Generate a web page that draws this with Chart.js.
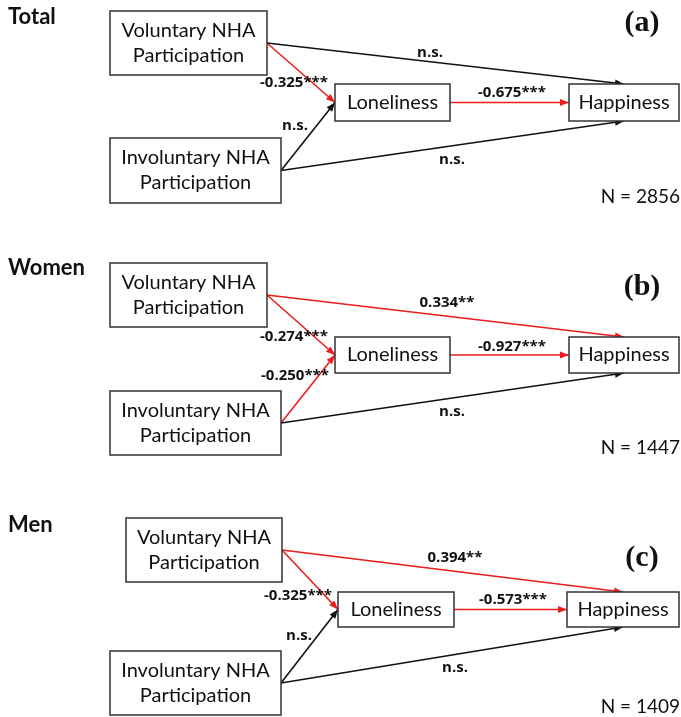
<!DOCTYPE html>
<html>
<head>
<meta charset="utf-8">
<script src="https://cdn.jsdelivr.net/npm/chart.js@4.4.1/dist/chart.umd.min.js"></script>
<style>
  body { margin: 0; background: #fff; }
  #wrap { width: 681px; height: 717px; }
</style>
</head>
<body>
<div id="wrap"><canvas id="pathChart" width="681" height="717"></canvas></div>
<script>
// Dados do diagrama
const panelTitles = ['Total', 'Women', 'Men'];
const panelLetters = ['(a)', '(b)', '(c)'];
const sampleSizes = [2856, 1447, 1409];
const nodeLabels = {
    vol: ['Voluntary NHA', 'Participation'],
    inv: ['Involuntary NHA', 'Participation'],
    lon: ['Loneliness'],
    hap: ['Happiness']
};
// coeficientes por caminho (a, b, c)
const volToLon = ['-0.325***', '-0.274***', '-0.325***'];
const invToLon = ['n.s.', '-0.250***', 'n.s.'];
const lonToHap = ['-0.675***', '-0.927***', '-0.573***'];
const volToHap = ['n.s.', '0.334**', '0.394**'];
const invToHap = ['n.s.', 'n.s.', 'n.s.'];

// Layout (unidades do eixo = pixels da figura)
const boxes = [
    { vol: [110, 11, 267, 75], inv: [110, 138, 281, 203], lon: [335, 84, 450, 121], hap: [569, 84, 679, 121] },
    { vol: [110, 263, 267, 327], inv: [110, 391, 281, 455], lon: [335, 337, 450, 373], hap: [569, 337, 679, 373] },
    { vol: [126, 518, 282, 582], inv: [110, 651, 281, 715], lon: [338, 592, 454, 627], hap: [567, 592, 679, 627] }
];
const labelPos = [
    { volLon: [294, 83], invLon: [295, 126], lonHap: [512, 93], volHap: [430, 53], invHap: [452, 160] },
    { volLon: [294, 337], invLon: [295, 376], lonHap: [512, 347], volHap: [447, 303], invHap: [452, 412] },
    { volLon: [298, 596], invLon: [299, 636], lonHap: [513, 600], volHap: [455, 558], invHap: [455, 668] }
];
const titlePos = [[8, 17], [8, 268], [8, 525]];
const letterPos = [[642, 23], [642, 287], [642, 558]];
const nPos = [[680, 197], [680, 448], [680, 707]];

const RED = '#ee1c1c';
const BLACK = '#111111';

function colorFor(label) {
    return label === 'n.s.' ? BLACK : RED;
}

function rightMid(b) { return { x: b[2], y: (b[1] + b[3]) / 2 }; }
function leftMid(b) { return { x: b[0], y: (b[1] + b[3]) / 2 }; }
function topMid(b) { return { x: (b[0] + b[2]) / 2, y: b[1] }; }
function bottomMid(b) { return { x: (b[0] + b[2]) / 2, y: b[3] }; }

// Montar os caminhos (setas)
const arrows = [];
boxes.forEach((bx, i) => {
    arrows.push({ from: rightMid(bx.vol), to: topMid(bx.hap), label: volToHap[i], at: labelPos[i].volHap });
    arrows.push({ from: rightMid(bx.inv), to: bottomMid(bx.hap), label: invToHap[i], at: labelPos[i].invHap });
    arrows.push({ from: rightMid(bx.vol), to: leftMid(bx.lon), label: volToLon[i], at: labelPos[i].volLon });
    arrows.push({ from: rightMid(bx.inv), to: leftMid(bx.lon), label: invToLon[i], at: labelPos[i].invLon });
    arrows.push({ from: rightMid(bx.lon), to: leftMid(bx.hap), label: lonToHap[i], at: labelPos[i].lonHap });
});

const datasets = arrows.map(a => ({
    data: [a.from, a.to],
    borderColor: colorFor(a.label),
    borderWidth: 1.6,
    pointRadius: 0,
    showLine: true,
    fill: false
}));

const diagramPlugin = {
    id: 'diagram',
    afterDatasetsDraw(chart) {
        const ctx = chart.ctx;
        const xs = chart.scales.x, ys = chart.scales.y;
        const px = v => xs.getPixelForValue(v);
        const py = v => ys.getPixelForValue(v);

        ctx.save();
        // pontas das setas
        arrows.forEach(a => {
            const x1 = px(a.from.x), y1 = py(a.from.y);
            const x2 = px(a.to.x), y2 = py(a.to.y);
            const ang = Math.atan2(y2 - y1, x2 - x1);
            const len = 9, half = 3.5;
            ctx.fillStyle = colorFor(a.label);
            ctx.beginPath();
            ctx.moveTo(x2, y2);
            ctx.lineTo(x2 - len * Math.cos(ang) + half * Math.sin(ang), y2 - len * Math.sin(ang) - half * Math.cos(ang));
            ctx.lineTo(x2 - len * Math.cos(ang) - half * Math.sin(ang), y2 - len * Math.sin(ang) + half * Math.cos(ang));
            ctx.closePath();
            ctx.fill();
        });

        // caixas
        boxes.forEach(bx => {
            Object.keys(bx).forEach(k => {
                const b = bx[k];
                const x0 = px(b[0]), y0 = py(b[1]), x1 = px(b[2]), y1 = py(b[3]);
                ctx.fillStyle = '#fff';
                ctx.fillRect(x0, y0, x1 - x0, y1 - y0);
                ctx.strokeStyle = '#333';
                ctx.lineWidth = 1.5;
                ctx.strokeRect(x0, y0, x1 - x0, y1 - y0);
                const lines = nodeLabels[k];
                ctx.fillStyle = '#111';
                ctx.font = '20px Lato';
                ctx.textAlign = 'center';
                ctx.textBaseline = 'middle';
                const cx = (x0 + x1) / 2, cy = (y0 + y1) / 2;
                const step = 25;
                lines.forEach((t, j) => {
                    ctx.fillText(t, cx, cy + (j - (lines.length - 1) / 2) * step);
                });
            });
        });

        // rótulos dos coeficientes
        ctx.font = 'bold 15px "Open Sans"';
        ctx.fillStyle = '#111';
        ctx.textAlign = 'center';
        ctx.textBaseline = 'middle';
        arrows.forEach(a => {
            ctx.fillText(a.label, px(a.at[0]), py(a.at[1]));
        });

        // títulos, letras e N
        panelTitles.forEach((t, i) => {
            ctx.font = 'bold 22px Lato';
            ctx.textAlign = 'left';
            ctx.fillText(t, px(titlePos[i][0]), py(titlePos[i][1]));
            ctx.font = 'bold 30px "Liberation Serif"';
            ctx.textAlign = 'center';
            ctx.fillText(panelLetters[i], px(letterPos[i][0]), py(letterPos[i][1]));
            ctx.font = '19px Lato';
            ctx.textAlign = 'right';
            ctx.fillText('N = ' + sampleSizes[i], px(nPos[i][0]), py(nPos[i][1]));
        });
        ctx.restore();
    }
};

new Chart(document.getElementById('pathChart'), {
    type: 'scatter',
    data: { datasets: datasets },
    options: {
        responsive: false,
        animation: false,
        layout: { padding: 0 },
        plugins: { legend: { display: false }, tooltip: { enabled: false } },
        scales: {
            x: { type: 'linear', min: 0, max: 681, display: false },
            y: { type: 'linear', min: 0, max: 717, reverse: true, display: false }
        }
    },
    plugins: [diagramPlugin]
});
</script>
</body>
</html>
